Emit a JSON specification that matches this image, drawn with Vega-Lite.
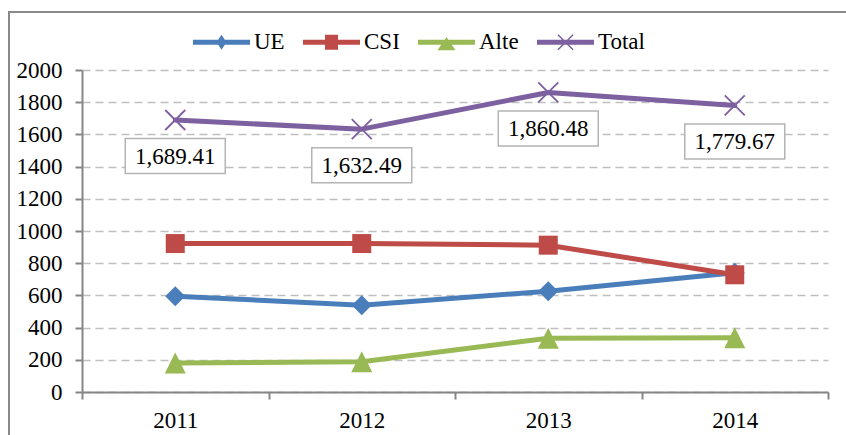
{
  "$schema": "https://vega.github.io/schema/vega-lite/v6.json",
  "autosize": {"type": "none"},
  "width": 850,
  "height": 430,
  "padding": {"left": 9, "top": 12, "right": 0, "bottom": 0},
  "background": "white",
  "config": {
    "view": {"stroke": "#898989", "strokeWidth": 2},
    "font": "Liberation Serif"
  },
  "data": {
    "values": [
      {"series": "UE", "year": "2011", "value": 595},
      {"series": "UE", "year": "2012", "value": 539},
      {"series": "UE", "year": "2013", "value": 626},
      {"series": "UE", "year": "2014", "value": 740},
      {"series": "CSI", "year": "2011", "value": 922},
      {"series": "CSI", "year": "2012", "value": 922},
      {"series": "CSI", "year": "2013", "value": 912},
      {"series": "CSI", "year": "2014", "value": 728},
      {"series": "Alte", "year": "2011", "value": 180},
      {"series": "Alte", "year": "2012", "value": 188},
      {"series": "Alte", "year": "2013", "value": 334},
      {"series": "Alte", "year": "2014", "value": 337},
      {"series": "Total", "year": "2011", "value": 1689.41},
      {"series": "Total", "year": "2012", "value": 1632.49},
      {"series": "Total", "year": "2013", "value": 1860.48},
      {"series": "Total", "year": "2014", "value": 1779.67}
    ]
  },
  "encoding": {
    "x": {
      "field": "year", "type": "nominal", "title": null,
      "scale": {"type": "band", "range": [73, 819], "paddingInner": 0, "paddingOuter": 0},
      "axis": {
        "orient": "bottom", "offset": -50, "labelAngle": 0,
        "tickBand": "extent", "tickSize": 7, "tickWidth": 2, "tickColor": "#868686",
        "domainColor": "#868686", "domainWidth": 2,
        "labelFont": "Liberation Serif", "labelFontSize": 23, "labelColor": "#000000", "labelPadding": 10,
        "grid": false
      }
    },
    "y": {
      "field": "value", "type": "quantitative", "title": null,
      "scale": {"domain": [0, 2000], "range": [380, 58], "nice": false},
      "axis": {
        "orient": "left", "offset": -73,
        "values": [0, 200, 400, 600, 800, 1000, 1200, 1400, 1600, 1800, 2000],
        "format": "d",
        "tickSize": 7, "tickWidth": 2, "tickColor": "#868686",
        "domainColor": "#868686", "domainWidth": 2,
        "labelFont": "Liberation Serif", "labelFontSize": 23, "labelColor": "#000000", "labelPadding": 13,
        "grid": true, "gridColor": "#bfbfbf", "gridDash": [8, 5], "gridWidth": 1.5
      }
    }
  },
  "layer": [
    {
      "mark": {"type": "point", "filled": true, "opacity": 0, "size": 1},
      "encoding": {
        "color": {
          "field": "series", "type": "nominal",
          "scale": {"domain": ["UE", "CSI", "Alte", "Total"], "range": ["#4a7ebb", "#be4b48", "#98b954", "#7d60a0"]},
          "legend": {
            "title": null, "orient": "none", "direction": "horizontal", "legendX": 184, "legendY": 1.5,
            "padding": 0, "symbolSize": 3249, "symbolStrokeWidth": 0, "symbolOpacity": 1,
            "labelFont": "Liberation Serif", "labelFontSize": 23, "labelColor": "#000000",
            "labelOffset": 4, "columnPadding": 18, "labelLimit": 200
          }
        },
        "shape": {
          "field": "series", "type": "nominal",
          "scale": {
            "domain": ["UE", "CSI", "Alte", "Total"],
            "range": [
              "M-1,-0.088L1,-0.088L1,0.088L-1,0.088ZM0,-0.263L0.175,0L0,0.263L-0.175,0Z",
              "M-1,-0.088L1,-0.088L1,0.088L-1,0.088ZM-0.228,-0.263L0.228,-0.263L0.228,0.263L-0.228,0.263Z",
              "M-1,-0.088L1,-0.088L1,0.088L-1,0.088ZM0,-0.186L0.316,0.28L-0.316,0.28Z",
              "M-1,-0.088L1,-0.088L1,0.088L-1,0.088ZM-0.282,-0.245L-0.245,-0.282L0.282,0.245L0.245,0.282ZM0.245,-0.282L0.282,-0.245L-0.245,0.282L-0.282,0.245Z"
            ]
          },
          "legend": {
            "title": null, "orient": "none", "direction": "horizontal", "legendX": 184, "legendY": 1.5,
            "padding": 0, "symbolSize": 3249, "symbolStrokeWidth": 0, "symbolOpacity": 1,
            "labelFont": "Liberation Serif", "labelFontSize": 23, "labelColor": "#000000",
            "labelOffset": 4, "columnPadding": 18, "labelLimit": 200
          }
        }
      }
    },
    {
      "mark": {"type": "line", "strokeWidth": 5, "strokeJoin": "round", "strokeCap": "round"},
      "encoding": {
        "color": {"field": "series", "type": "nominal", "legend": null}
      }
    },
    {
      "transform": [{"filter": "datum.series == 'UE'"}],
      "mark": {"type": "point", "shape": "diamond", "size": 400, "filled": true, "opacity": 1},
      "encoding": {"color": {"field": "series", "type": "nominal", "legend": null}}
    },
    {
      "transform": [{"filter": "datum.series == 'CSI'"}],
      "mark": {"type": "point", "shape": "square", "size": 361, "filled": true, "opacity": 1},
      "encoding": {"color": {"field": "series", "type": "nominal", "legend": null}}
    },
    {
      "transform": [{"filter": "datum.series == 'Alte'"}],
      "mark": {"type": "point", "shape": "M0,-1L1,1L-1,1Z", "size": 441, "filled": true, "opacity": 1},
      "encoding": {"color": {"field": "series", "type": "nominal", "legend": null}}
    },
    {
      "transform": [{"filter": "datum.series == 'Total'"}],
      "mark": {"type": "point", "shape": "M-1,-1L1,1M1,-1L-1,1", "size": 400, "filled": false, "strokeWidth": 1.8, "opacity": 1},
      "encoding": {"color": {"field": "series", "type": "nominal", "legend": null}}
    },
    {
      "transform": [{"filter": "datum.series == 'Total'"}],
      "mark": {"type": "point", "shape": "M-1,-0.35L1,-0.35L1,0.35L-1,0.35Z", "size": 10000, "filled": true, "fill": "#ffffff", "stroke": "#b4b4b4", "strokeWidth": 1.5, "opacity": 1, "yOffset": 36}
    },
    {
      "transform": [{"filter": "datum.series == 'Total'"}],
      "mark": {"type": "text", "font": "Liberation Serif", "fontSize": 23, "color": "#000000", "baseline": "middle", "align": "center", "yOffset": 37},
      "encoding": {"text": {"field": "value", "type": "quantitative", "format": ",.2f"}}
    }
  ]
}
